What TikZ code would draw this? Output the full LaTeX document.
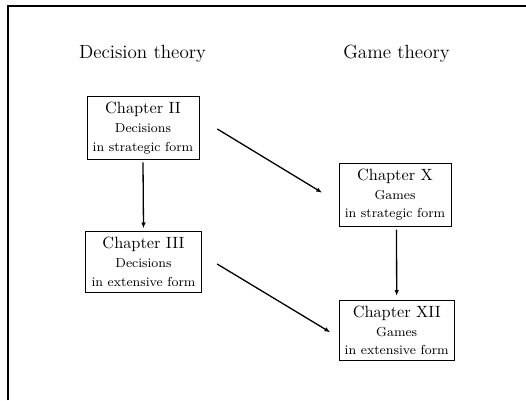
\documentclass[tikz,border=0pt]{standalone}
\usetikzlibrary{arrows.meta,calc}
\begin{document}
\begin{tikzpicture}[x=0.6135pt,y=-0.6135pt,
  chapbox/.style={draw,line width=0.45pt,align=center,inner sep=3.5pt,font=\fontsize{10}{10.5}\selectfont},
  heading/.style={font=\fontsize{11.7}{14}\selectfont,inner sep=0pt},
  arr/.style={line width=0.8pt,-{Latex[length=3.6pt,width=2.8pt]}}]
\useasboundingbox (0,0) rectangle (526,400);
\coordinate (fl) at (8,400);
\coordinate (fc) at (8,6);
\coordinate (fr) at (526,6);
\draw[line width=0.7pt] (fl) -- (fc) -- (fr);
\node[heading] (dt) at (142.5,54) {Decision theory};
\node[heading] (gt) at (396.5,54) {Game theory};
\node[chapbox] (c2) at (143,128) {Chapter II\\[1pt]{\footnotesize Decisions}\\[1pt]{\footnotesize in strategic form}};
\node[chapbox] (c3) at (143.5,262) {Chapter III\\[1pt]{\footnotesize Decisions}\\[1pt]{\footnotesize in extensive form}};
\node[chapbox] (c10) at (395,194.7) {Chapter X\\[1pt]{\footnotesize Games}\\[1pt]{\footnotesize in strategic form}};
\node[chapbox] (c12) at (396.7,330.5) {Chapter XII\\[1pt]{\footnotesize Games}\\[1pt]{\footnotesize in extensive form}};
\draw[arr] ($(c2.south)+(0,2.5)$) -- ($(c3.north)+(0,-3)$);
\draw[arr] ($(c10.south)+(1.5,3)$) -- ($(c12.north)+(0,-4)$);
\draw[arr] ($(c2.east)+(18,1)$) -- ($(c10.west)+(-16.5,-2)$);
\draw[arr] ($(c3.east)+(15.6,2)$) -- ($(c12.west)+(-8.3,1.8)$);
\end{tikzpicture}
\end{document}
